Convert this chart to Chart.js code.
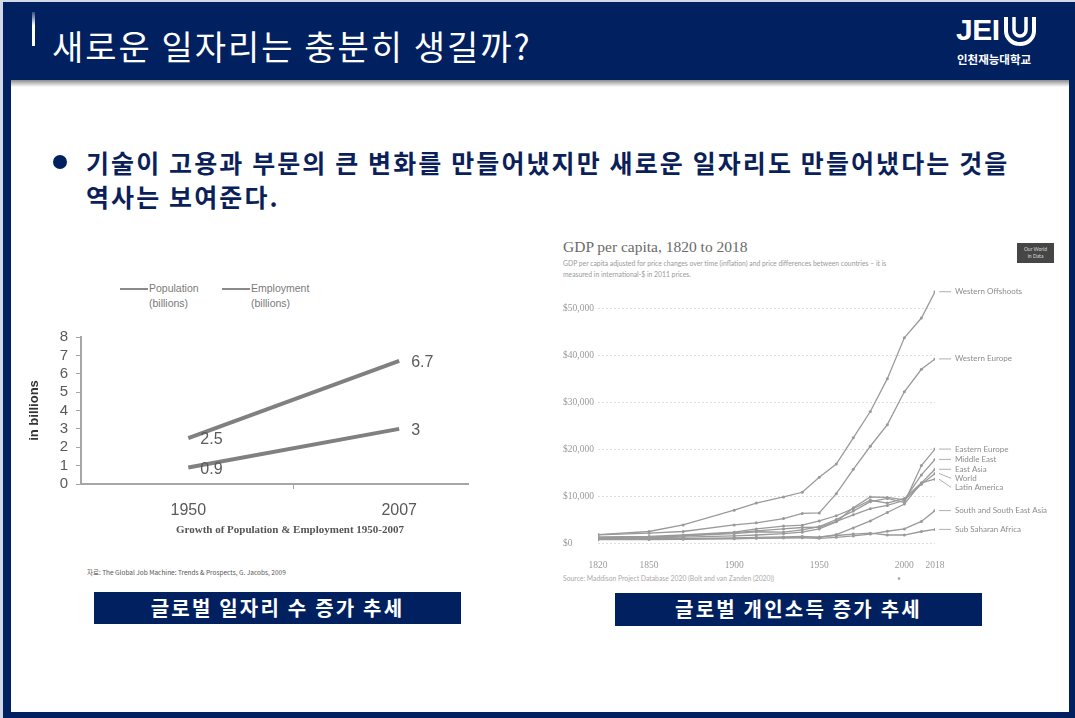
<!DOCTYPE html>
<html>
<head>
<meta charset="utf-8">
<script src="https://cdn.jsdelivr.net/npm/chart.js@4.4.1/dist/chart.umd.min.js"></script>
<style>
html,body{margin:0;padding:0;}
body{width:1075px;height:718px;position:relative;overflow:hidden;background:#d3d8e8;font-family:"Noto Sans CJK KR",sans-serif;}
.frame{position:absolute;left:3px;top:2px;right:0;bottom:0;background:#002060;}
.inner{position:absolute;left:11px;top:80px;right:6px;bottom:6px;background:#fff;}
.shadow{position:absolute;left:11px;top:80px;right:6px;height:7px;background:linear-gradient(#8c8c8c,#fff);}
.bar{position:absolute;left:32px;top:12px;width:3px;height:34px;background:linear-gradient(rgba(255,255,255,0.2),#fff 40%);}
.title{position:absolute;left:52px;top:23px;color:#fff;font-size:34px;line-height:46px;letter-spacing:2px;white-space:nowrap;}
.jei{position:absolute;left:956px;top:13px;color:#fff;font:bold 30px "Liberation Sans",sans-serif;letter-spacing:-0.5px;}
.logo{position:absolute;left:1003px;top:16px;}
.school{position:absolute;left:957px;top:51px;color:#fff;font-weight:bold;font-size:11.5px;line-height:16px;letter-spacing:0px;}
.dot{position:absolute;left:53px;top:155px;width:14px;height:14px;border-radius:50%;background:#002060;}
.bullet{position:absolute;left:86px;top:145px;width:980px;color:#0b1f5a;font-weight:bold;font-size:25px;line-height:34px;letter-spacing:2.1px;white-space:nowrap;}
.legend{position:absolute;top:281px;font:10.5px "Liberation Sans",sans-serif;color:#7a7a7a;line-height:15px;}
.legend i{position:absolute;left:-29px;top:7px;width:28px;height:2px;background:#8a8a8a;}
.jobTitle{position:absolute;left:140px;width:300px;top:523px;text-align:center;font:bold 11px "Liberation Serif",serif;color:#555;}
.note{position:absolute;left:87px;top:567px;font-size:6.5px;color:#555;white-space:nowrap;}
.cap{position:absolute;height:32px;background:#002060;color:#fff;font-weight:bold;font-size:20px;line-height:32px;text-align:center;letter-spacing:2.2px;}
.gdpTitle{position:absolute;left:563px;top:238px;font:15.5px "Liberation Serif",serif;color:#6a6a6a;white-space:nowrap;}
.gdpSub{position:absolute;left:563px;top:258px;font:6.8px Lato,sans-serif;color:#9a9a9a;line-height:11px;white-space:nowrap;}
.owid{position:absolute;left:1017px;top:243px;width:37px;height:20px;background:#464646;color:#ddd;font:5px Lato,sans-serif;line-height:7px;text-align:center;padding-top:3px;box-sizing:border-box;}
.source{position:absolute;left:563px;top:574px;font:6.8px Lato,sans-serif;color:#ababab;white-space:nowrap;}
canvas{position:absolute;}
</style>
</head>
<body>
<div class="frame"></div>
<div class="inner"></div>
<div class="shadow"></div>
<div class="bar"></div>
<div class="title">새로운 일자리는 충분히 생길까?</div>
<div class="jei">JEI</div>
<svg class="logo" width="34" height="30" viewBox="0 0 34 30">
  <path d="M3 1 V15 A14 13 0 0 0 31 15 V1" fill="none" stroke="#fff" stroke-width="4"/>
  <path d="M11 1 V14 A6 6 0 0 0 23 14 V1" fill="none" stroke="#fff" stroke-width="3.5"/>
</svg>
<div class="school">인천재능대학교</div>

<div class="dot"></div>
<div class="bullet">기술이 고용과 부문의 큰 변화를 만들어냈지만 새로운 일자리도 만들어냈다는 것을<br>역사는 보여준다.</div>

<div class="legend" style="left:149px"><i></i>Population<br>(billions)</div>
<div class="legend" style="left:251px"><i></i>Employment<br>(billions)</div>
<canvas id="jobChart" width="455" height="225" style="left:20px;top:320px"></canvas>
<div class="jobTitle">Growth of Population &amp; Employment 1950-2007</div>
<div class="note">자료: The Global Job Machine: Trends &amp; Prospects, G. Jacobs, 2009</div>
<div class="cap" style="left:94px;top:592px;width:367px">글로벌 일자리 수 증가 추세</div>

<div class="gdpTitle">GDP per capita, 1820 to 2018</div>
<div class="gdpSub">GDP per capita adjusted for price changes over time (inflation) and price differences between countries – it is<br>measured in international-$ in 2011 prices.</div>
<div class="owid">Our World<br>in Data</div>
<canvas id="gdpChart" width="510" height="296" style="left:555px;top:276px"></canvas>
<div class="source">Source: Maddison Project Database 2020 (Bolt and van Zanden (2020))</div>
<div class="source" style="left:897px">•</div>
<div class="cap" style="left:615px;top:593px;width:367px;height:33px">글로벌 개인소득 증가 추세</div>

<script>
// 왼쪽: 인구 / 고용
var jobYears = [1950, 2007];
var population = [2.5, 6.7];
var employment = [0.9, 3];
var jobTicks = [0, 1, 2, 3, 4, 5, 6, 7, 8];

// 오른쪽: 1인당 GDP
var gdpYears = [1820, 1850, 1870, 1900, 1913, 1929, 1940, 1950, 1960, 1970, 1980, 1990, 2000, 2010, 2018];
var westernOffshoots = [1800, 2450, 3850, 7000, 8500, 9800, 10800, 14000, 16800, 22400, 28000, 35000, 43700, 47900, 53500];
var westernEurope = [1750, 2100, 2450, 3850, 4300, 5200, 6300, 6400, 10500, 15700, 20600, 25200, 32200, 37000, 39200];
var easternEurope = [1000, 1200, 1500, 2000, 2400, 2300, 2800, 3500, 5000, 6800, 8800, 9500, 8600, 16500, 20000];
var middleEast = [1000, 1100, 1250, 1500, 1700, 2000, 2300, 3000, 4500, 7500, 9800, 9700, 9200, 14500, 17800];
var eastAsia = [900, 900, 950, 1100, 1200, 1300, 1400, 1200, 1800, 3200, 4700, 6500, 8300, 12800, 15700];
var world = [1100, 1250, 1500, 2200, 2600, 3000, 3300, 3350, 4600, 6000, 7300, 8000, 9100, 12500, 14800];
var latinAmerica = [1300, 1400, 1700, 2300, 3000, 3600, 3800, 4700, 5800, 7300, 9100, 8500, 9500, 12800, 13600];
var southAsia = [900, 900, 920, 1000, 1050, 1100, 1100, 1000, 1200, 1500, 1900, 2500, 3000, 4600, 6900];
var subSaharan = [700, 750, 800, 900, 1000, 1100, 1200, 1300, 1600, 1900, 2100, 1700, 1700, 2450, 2900];
var regionNames = ['Western Offshoots', 'Western Europe', 'Eastern Europe', 'Middle East', 'East Asia', 'World', 'Latin America', 'South and South East Asia', 'Sub Saharan Africa'];
var regionValues = [westernOffshoots, westernEurope, easternEurope, middleEast, eastAsia, world, latinAmerica, southAsia, subSaharan];
var gdpTicks = [0, 10000, 20000, 30000, 40000, 50000];
var yearTicks = [1820, 1850, 1900, 1950, 2000, 2018];

function toPoints(xs, ys) {
	return xs.map(function(x, i) { return {x: x, y: ys[i]}; });
}

var valueLabels = {
	id: 'valueLabels',
	afterDatasetsDraw: function(chart) {
		var ctx = chart.ctx;
		ctx.save();
		ctx.font = '16px "Liberation Sans"';
		ctx.fillStyle = '#5a5a5a';
		ctx.textBaseline = 'middle';
		chart.data.datasets.forEach(function(ds, i) {
			chart.getDatasetMeta(i).data.forEach(function(p, j) {
				ctx.fillText(String(ds.data[j].y), p.x + 12, p.y + 2);
			});
		});
		ctx.restore();
	}
};

var endLabels = {
	id: 'endLabels',
	afterDatasetsDraw: function(chart) {
		var ctx = chart.ctx;
		var items = [];
		chart.data.datasets.forEach(function(ds, i) {
			var pts = chart.getDatasetMeta(i).data;
			var p = pts[pts.length - 1];
			items.push({text: ds.label, x: p.x, y: p.y, ly: p.y});
		});
		items.sort(function(a, b) { return a.y - b.y; });
		for (var i = 1; i < items.length; i++) {
			if (items[i].ly < items[i - 1].ly + 9) items[i].ly = items[i - 1].ly + 9;
		}
		ctx.save();
		ctx.font = '8px Lato';
		ctx.fillStyle = '#8c8c8c';
		ctx.strokeStyle = '#b0b0b0';
		ctx.lineWidth = 1;
		ctx.textBaseline = 'middle';
		items.forEach(function(it) {
			ctx.beginPath();
			ctx.moveTo(it.x + 4, it.y);
			ctx.lineTo(it.x + 16, it.ly);
			ctx.stroke();
			ctx.fillText(it.text, it.x + 20, it.ly);
		});
		ctx.restore();
	}
};

new Chart(document.getElementById('jobChart'), {
	type: 'line',
	data: {
		datasets: [
			{label: 'Population (billions)', data: toPoints(jobYears, population), borderColor: '#808080', borderWidth: 4, pointRadius: 0},
			{label: 'Employment (billions)', data: toPoints(jobYears, employment), borderColor: '#808080', borderWidth: 4, pointRadius: 0}
		]
	},
	options: {
		responsive: false,
		animation: false,
		layout: {padding: {top: 12, right: 7}},
		plugins: {legend: {display: false}, tooltip: {enabled: false}},
		scales: {
			x: {
				type: 'linear', min: 1921, max: 2025.6,
				afterBuildTicks: function(ax) { ax.ticks = [{value: 1950}, {value: 1978.5}, {value: 2007}]; },
				afterFit: function(ax) { ax.height = 61; },
				ticks: {
					padding: 12, color: '#5a5a5a', font: {family: 'Liberation Sans', size: 16}, autoSkip: false, maxRotation: 0,
					callback: function(v) { return v === 1978.5 ? '' : String(v); }
				},
				grid: {
					drawOnChartArea: false, tickLength: 5,
					color: function(c) { return c.tick && c.tick.value === 1978.5 ? '#a6a6a6' : 'rgba(0,0,0,0)'; }
				},
				border: {color: '#a6a6a6', width: 2}
			},
			y: {
				min: 0, max: 8,
				afterBuildTicks: function(ax) { ax.ticks = jobTicks.map(function(v) { return {value: v}; }); },
				afterFit: function(ax) { ax.width = 61; },
				ticks: {padding: 8, color: '#5a5a5a', font: {family: 'Liberation Sans', size: 15}, autoSkip: false},
				grid: {drawOnChartArea: false, tickLength: 5, color: '#a6a6a6'},
				border: {color: '#a6a6a6', width: 2},
				title: {display: true, text: 'in billions', color: '#333', font: {family: 'Liberation Sans', size: 13, weight: 'bold'}, padding: {top: 7, bottom: 0}}
			}
		}
	},
	plugins: [valueLabels]
});

new Chart(document.getElementById('gdpChart'), {
	type: 'line',
	data: {
		datasets: regionNames.map(function(name, i) {
			return {
				label: name,
				data: toPoints(gdpYears, regionValues[i]),
				borderColor: '#9a9a9a',
				backgroundColor: '#9a9a9a',
				borderWidth: 1.3,
				pointRadius: 1.5,
				pointBorderWidth: 0
			};
		})
	},
	options: {
		responsive: false,
		animation: false,
		layout: {padding: {left: 8, right: 130, top: 3, bottom: 0}},
		plugins: {legend: {display: false}, tooltip: {enabled: false}},
		scales: {
			x: {
				type: 'linear', min: 1820, max: 2018,
				afterBuildTicks: function(ax) { ax.ticks = yearTicks.map(function(v) { return {value: v}; }); },
				afterFit: function(ax) { ax.height = 29; },
				ticks: {padding: 9, color: '#9a9a9a', font: {family: 'Liberation Serif', size: 9.5}, autoSkip: false, maxRotation: 0, callback: function(v) { return String(v); }},
				grid: {display: false},
				border: {display: false}
			},
			y: {
				min: 0, max: 55000,
				afterBuildTicks: function(ax) { ax.ticks = gdpTicks.map(function(v) { return {value: v}; }); },
				afterFit: function(ax) { ax.width = 35; },
				ticks: {
					crossAlign: 'far', color: '#9a9a9a', font: {family: 'Liberation Serif', size: 9.5}, autoSkip: false,
					callback: function(v) { return '$' + v.toLocaleString('en-US'); }
				},
				grid: {color: '#dedede', drawTicks: false},
				border: {display: false, dash: [2, 2]}
			}
		}
	},
	plugins: [endLabels]
});
</script>
</body>
</html>
